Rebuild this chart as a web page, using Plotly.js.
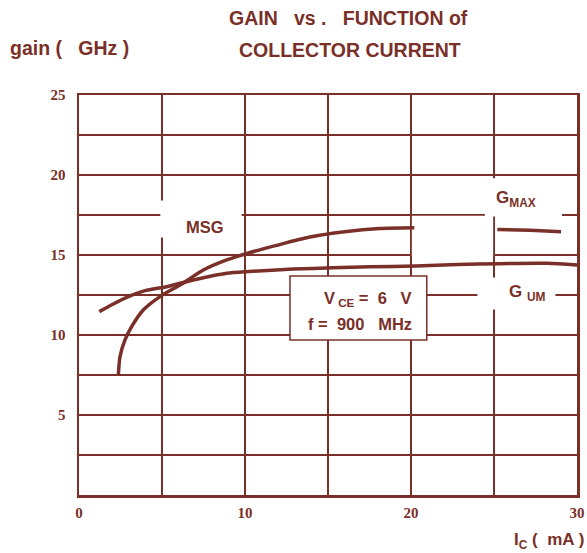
<!DOCTYPE html>
<html>
<head>
<meta charset="utf-8">
<script src="https://cdn.plot.ly/plotly-3.0.1.min.js"></script>
<style>html,body{margin:0;padding:0;background:#fff;}#chart{width:587px;height:553px;}</style>
</head>
<body>
<div id="chart"></div>
<script>
// ---- data ----
const msgX = [2.37, 2.47, 2.77, 3.17, 3.87, 4.88, 6.19, 7.49, 8.9, 10.26, 11.9, 13.9, 16.0, 18.1, 20.2];
const msgY = [7.5, 8.64, 9.69, 10.52, 11.56, 12.4, 13.19, 14.06, 14.69, 15.14, 15.6, 16.12, 16.45, 16.65, 16.7];
const gmaxX = [25.2, 27.2, 29.04];
const gmaxY = [16.6, 16.54, 16.46];
const gumX = [1.22, 2.07, 2.87, 3.98, 5.28, 6.89, 8.9, 10.26, 12.9, 15.3, 17.5, 20.3, 22.8, 25.3, 28.2, 30];
const gumY = [11.46, 11.94, 12.35, 12.77, 13.02, 13.44, 13.86, 13.97, 14.12, 14.2, 14.26, 14.31, 14.4, 14.46, 14.48, 14.38];
const xTickVals = [0, 5, 10, 15, 20, 25, 30];
const xTickText = ['0', '', '10', '', '20', '', '30'];
const yTickVals = [0, 2.5, 5, 7.5, 10, 12.5, 15, 17.5, 20, 22.5, 25];
const yTickText = ['', '', '5', '', '10', '', '15', '', '20', '', '25'];

const C = '#7a2f28';
const sans = 'Liberation Sans, Arial, sans-serif';
const serif = 'Liberation Serif, Times New Roman, serif';
const NB = '\u00A0';

const lineStyle = {color: C, width: 3.5, shape: 'spline', smoothing: 0.7};
const traces = [
  {x: msgX, y: msgY, mode: 'lines', line: lineStyle, hoverinfo: 'skip'},
  {x: gmaxX, y: gmaxY, mode: 'lines', line: lineStyle, hoverinfo: 'skip'},
  {x: gumX, y: gumY, mode: 'lines', line: lineStyle, hoverinfo: 'skip'}
];

function whiteBox(x0, x1, y0, y1) {
  return {type: 'rect', xref: 'x', yref: 'y', x0, x1, y0, y1,
          fillcolor: '#fff', line: {width: 0}, layer: 'between'};
}

const layout = {
  width: 587, height: 553,
  margin: {l: 79, r: 10, t: 95, b: 58},
  paper_bgcolor: '#fff', plot_bgcolor: '#fff',
  showlegend: false,
  xaxis: {
    range: [0, 30], tickvals: xTickVals, ticktext: xTickText,
    showgrid: true, gridcolor: C, gridwidth: 1.5,
    showline: true, mirror: true, linecolor: C, linewidth: 2.5,
    zeroline: false, ticks: '', ticklabelstandoff: 2,
    tickfont: {family: serif, size: 15, color: C, weight: 'bold'},
    fixedrange: true
  },
  yaxis: {
    range: [0, 25], tickvals: yTickVals, ticktext: yTickText,
    showgrid: true, gridcolor: C, gridwidth: 1.5,
    showline: true, mirror: true, linecolor: C, linewidth: 2.5,
    zeroline: false, ticks: '', ticklabelstandoff: 8,
    tickfont: {family: serif, size: 15, color: C, weight: 'bold'},
    fixedrange: true
  },
  shapes: [
    whiteBox(4.9, 9.8, 16.1, 18.4),
    whiteBox(24.45, 29.1, 17.4, 19.8),
    whiteBox(20.05, 24.95, 14.9, 17.45),
    whiteBox(24.0, 28.7, 11.6, 13.6),
    {type: 'rect', xref: 'x', yref: 'y', x0: 12.71, x1: 20.95, y0: 9.69, y1: 13.69,
     fillcolor: '#fff', line: {color: C, width: 1.5}, layer: 'above'}
  ],
  annotations: [
    {xref: 'paper', yref: 'paper', x: (348 - 79) / 498, y: (495 - 18) / 400, text: 'GAIN' + NB + NB + NB + 'vs .' + NB + NB + NB + 'FUNCTION of',
     showarrow: false, xanchor: 'center', yanchor: 'middle', font: {family: sans, size: 19.5, color: C, weight: 'bold'}},
    {xref: 'paper', yref: 'paper', x: (350 - 79) / 498, y: (495 - 50) / 400, text: 'COLLECTOR CURRENT',
     showarrow: false, xanchor: 'center', yanchor: 'middle', font: {family: sans, size: 19.5, color: C, weight: 'bold'}},
    {xref: 'paper', yref: 'paper', x: (8 - 79) / 498, y: (495 - 48) / 400, text: 'gain (' + NB + NB + NB + 'GHz )',
     showarrow: false, xanchor: 'left', yanchor: 'middle', font: {family: sans, size: 19.5, color: C, weight: 'bold'}},
    {xref: 'paper', yref: 'paper', x: (586 - 79) / 498, y: (495 - 541) / 400, text: 'I<sub>C</sub>' + NB + '(' + NB + NB + 'mA )',
     showarrow: false, xanchor: 'right', yanchor: 'middle', font: {family: sans, size: 17, color: C, weight: 'bold'}},
    {xref: 'x', yref: 'y', x: 7.6, y: 16.75, text: 'MSG',
     showarrow: false, xanchor: 'center', yanchor: 'middle', font: {family: sans, size: 16.5, color: C, weight: 'bold'}},
    {xref: 'x', yref: 'y', x: 25.0, y: 18.5, text: 'G<sub>MAX</sub>',
     showarrow: false, xanchor: 'left', yanchor: 'middle', font: {family: sans, size: 17, color: C, weight: 'bold'}},
    {xref: 'x', yref: 'y', x: 25.8, y: 12.6, text: 'G' + NB + '<sub>UM</sub>',
     showarrow: false, xanchor: 'left', yanchor: 'middle', font: {family: sans, size: 17, color: C, weight: 'bold'}},
    {xref: 'x', yref: 'y', x: 20.2, y: 12.25, text: 'V<sub>' + NB + 'CE</sub>' + NB + '=' + NB + NB + '6' + NB + NB + NB + 'V',
     showarrow: false, xanchor: 'right', yanchor: 'middle', font: {family: sans, size: 16.5, color: C, weight: 'bold'}},
    {xref: 'x', yref: 'y', x: 20.2, y: 10.7, text: 'f' + NB + '=' + NB + NB + '900' + NB + NB + NB + 'MHz',
     showarrow: false, xanchor: 'right', yanchor: 'middle', font: {family: sans, size: 16.5, color: C, weight: 'bold'}}
  ]
};

Plotly.newPlot('chart', traces, layout, {displayModeBar: false, staticPlot: true});
</script>
</body>
</html>
